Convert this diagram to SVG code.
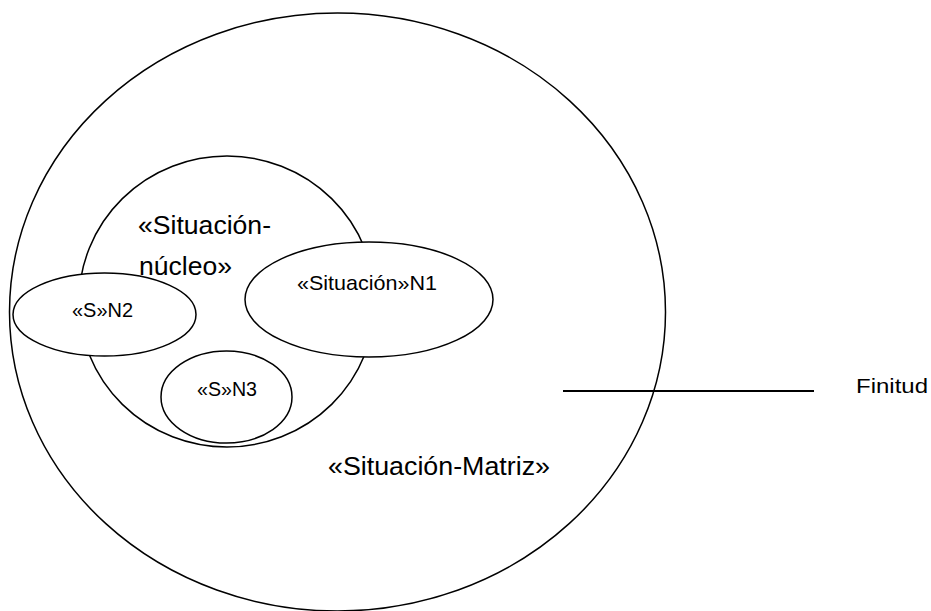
<svg xmlns="http://www.w3.org/2000/svg" width="931" height="611" viewBox="0 0 931 611">
  <style>
    .shape { fill: #ffffff; stroke: #000000; stroke-width: 1.5; }
    .outline { fill: none; stroke: #000000; stroke-width: 1.5; }
    .big { font-family: "Liberation Sans", Arial, sans-serif; font-size: 25px; fill: #000000; }
    .small { font-family: "Liberation Sans", Arial, sans-serif; font-size: 21px; fill: #000000; }
    .link { stroke: #000000; stroke-width: 1.8; fill: none; }
  </style>
  <rect width="931" height="611" fill="#ffffff"/>

  <!-- core situation -->
  <g id="nucleo">
    <ellipse class="shape" cx="227" cy="301.5" rx="148" ry="145.5"/>
  </g>

  <!-- sub-situations -->
  <g id="n3">
    <ellipse class="shape" cx="226.5" cy="397" rx="65.5" ry="46"/>
    <text class="small" x="197" y="396" textLength="60" lengthAdjust="spacingAndGlyphs">«S»N3</text>
  </g>
  <g id="n2">
    <ellipse class="shape" cx="104.5" cy="314.5" rx="91.5" ry="41.5"/>
    <text class="small" x="72" y="317" textLength="61" lengthAdjust="spacingAndGlyphs">«S»N2</text>
  </g>
  <g id="n1">
    <ellipse class="shape" cx="369" cy="299.5" rx="124" ry="57.5"/>
    <text class="small" x="297" y="290" textLength="140" lengthAdjust="spacingAndGlyphs">«Situación»N1</text>
  </g>

  <g id="nucleo-label">
    <text class="big" x="138" y="234" textLength="133" lengthAdjust="spacingAndGlyphs">«Situación-</text>
    <text class="big" x="139" y="275" textLength="93" lengthAdjust="spacingAndGlyphs">núcleo»</text>
  </g>

  <!-- outer matrix situation -->
  <g id="matriz">
    <ellipse class="outline" cx="337.5" cy="312" rx="328" ry="299"/>
    <text class="big" x="328" y="475" textLength="222" lengthAdjust="spacingAndGlyphs">«Situación-Matriz»</text>
  </g>

  <g id="finitud">
    <text class="small" x="856" y="393" font-size="22" textLength="72" lengthAdjust="spacingAndGlyphs">Finitud</text>
  </g>

  <g id="connectors">
    <line class="link" x1="563" y1="391" x2="814" y2="391"/>
  </g>
</svg>
